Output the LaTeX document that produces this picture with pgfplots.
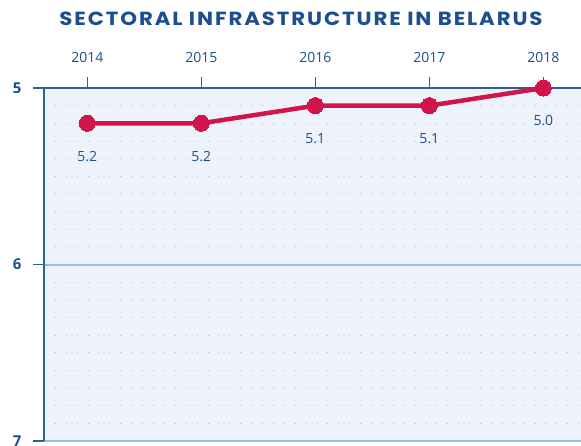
\documentclass[border=0pt]{standalone}
\usepackage{fontspec}
\setmainfont{Open Sans}
\newfontfamily\titlefont[LetterSpace=10, FakeStretch=1.12]{Poppins}
\usepackage{pgfplots}
\pgfplotsset{compat=1.18}
\definecolor{bgblue}{HTML}{EEF3FB}
\definecolor{darkblue}{HTML}{1D4F8F}
\definecolor{axblue}{HTML}{2E5F9E}
\definecolor{lineblue}{HTML}{9BBDE3}
\definecolor{crimson}{HTML}{D0154A}
\definecolor{dotgray}{HTML}{B5C0CF}
\begin{document}
\begin{tikzpicture}[x=1pt,y=1pt]
\begin{axis}[
  at={(0,0)}, anchor=south west,
  scale only axis, width=537pt, height=353pt,
  xmin=2013.62, xmax=2018.33, ymin=5, ymax=7, y dir=reverse,
  /pgf/number format/assume math mode=true,
  axis x line*=top, axis y line*=left,
  axis line style={axblue, line width=1.3pt},
  xtick={2014,2015,2016,2017,2018},
  xticklabels={2014,2015,2016,2017,2018},
  ytick={5,6,7},
  minor ytick={5.1,5.2,5.3,5.4,5.5,5.6,5.7,5.8,5.9,6.1,6.2,6.3,6.4,6.5,6.6,6.7,6.8,6.9},
  tick align=outside, major tick length=11pt, minor tick length=0pt,
  tick style={axblue, line width=1.3pt},
  ymajorgrids, yminorgrids,
  major grid style={lineblue, line width=2pt},
  minor grid style={dotgray, line width=0.9pt, dash pattern=on 0.9pt off 10pt},
  axis background/.style={fill=bgblue},
  xticklabel style={font=\fontsize{14}{14}\selectfont, text=darkblue, yshift=11pt},
  yticklabel style={font=\bfseries\fontsize{15}{15}\selectfont, text=darkblue, xshift=-8pt},
  title={SECTORAL INFRASTRUCTURE IN BELARUS},
  title style={font=\titlefont\bfseries\fontsize{19}{19}\selectfont, text=darkblue,
    at={(axis description cs:0.4786,1)}, anchor=center, yshift=63pt},
  clip=false,
  nodes near coords={\pgfmathprintnumber[fixed, precision=1, fixed zerofill]{\pgfplotspointmeta}},
  every node near coord/.style={anchor=center, yshift=-33pt, font=\fontsize{14}{14}\selectfont, text=darkblue},
]
\addplot[crimson, line width=4.5pt, mark=*, mark size=8pt, mark options={fill=crimson, draw=crimson, line width=0pt}]
  coordinates {(2014,5.2) (2015,5.2) (2016,5.1) (2017,5.1) (2018,5.0)};
\end{axis}
\pgfresetboundingbox
\path[use as bounding box] (-44,-4) rectangle (537,441);
\end{tikzpicture}
\end{document}
